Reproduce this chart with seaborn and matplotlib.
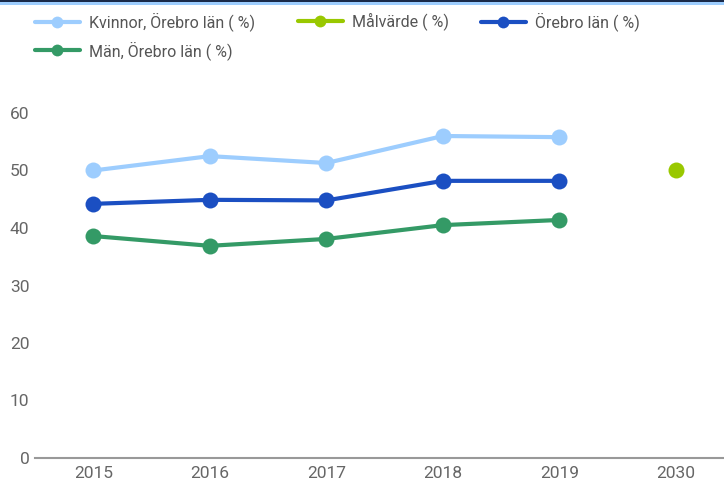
import numpy as np
import pandas as pd
import seaborn as sns
import matplotlib.pyplot as plt
from matplotlib.lines import Line2D
from matplotlib.patches import Rectangle

years = ['2015', '2016', '2017', '2018', '2019', '2030']
kvinnor = [50.0, 52.5, 51.3, 56.0, 55.8, np.nan]
malvarde = [np.nan, np.nan, np.nan, np.nan, np.nan, 50.0]
orebro = [44.2, 44.9, 44.8, 48.2, 48.2, np.nan]
man = [38.6, 36.9, 38.1, 40.5, 41.4, np.nan]

names = ['Kvinnor, Örebro län ( %)', 'Målvärde ( %)', 'Örebro län ( %)', 'Män, Örebro län ( %)']
colors = ['#9dcdfe', '#99c800', '#1b4fc2', '#349a66']

rows = []
for name, vals in zip(names, [kvinnor, malvarde, orebro, man]):
    for i, (y, v) in enumerate(zip(years, vals)):
        rows.append({'pos': i, 'year': y, 'serie': name, 'value': v})
df = pd.DataFrame(rows).dropna()

sns.set_style('white')
plt.rcParams['font.family'] = ['Roboto', 'DejaVu Sans']

W, H = 724, 484
fig = plt.figure(figsize=(W / 100, H / 100), dpi=100)
ax = fig.add_axes([35 / W, (H - 458) / H, (W - 35) / W, 368 / H])

for name, col in zip(names, colors):
    sub = df[df['serie'] == name]
    sns.lineplot(data=sub, x='pos', y='value', color=col, ax=ax, linewidth=3,
                 marker='o', markersize=11.5, markeredgewidth=0, legend=False)

ax.set_xlim(-0.5, (724 - 93) / 116.6)
ax.set_ylim(0, 64)
ax.set_xticks(range(len(years)))
ax.set_xticklabels(years)
ax.set_yticks([0, 10, 20, 30, 40, 50, 60])
ax.set_xlabel('')
ax.set_ylabel('')
ax.tick_params(axis='both', length=0, labelsize=12.5, labelcolor='#666666')
ax.tick_params(axis='y', pad=4)
ax.tick_params(axis='x', pad=6)
for s in ['top', 'right', 'left']:
    ax.spines[s].set_visible(False)
ax.spines['bottom'].set_color('#999999')
ax.spines['bottom'].set_linewidth(1.5)
ax.grid(False)


def handle(c):
    return Line2D([], [], color=c, linewidth=3, marker='o', markersize=8.5,
                  markeredgewidth=0)


# legend columns placed like the original
columns = [([0, 3], 35), ([1], 298), ([2], 481)]
for idx, x0 in columns:
    leg = fig.legend([handle(colors[i]) for i in idx], [names[i] for i in idx],
                     loc='upper left', bbox_to_anchor=(x0 / W, 1 - 12.5 / H),
                     frameon=False, fontsize=11.5, handlelength=2.8,
                     handletextpad=0.55, labelspacing=0.6, borderpad=0,
                     borderaxespad=0)
    for t in leg.get_texts():
        t.set_color('#555555')

# top border
fig.add_artist(Rectangle((0, 1 - 5 / H), 1, 4 / H, transform=fig.transFigure,
                         color='#9dcdfe', lw=0))
fig.add_artist(Rectangle((0, 1 - 1.5 / H), 1, 1.5 / H, transform=fig.transFigure,
                         color='#1a2a4a', lw=0))

fig.savefig('out.png', dpi=100)
